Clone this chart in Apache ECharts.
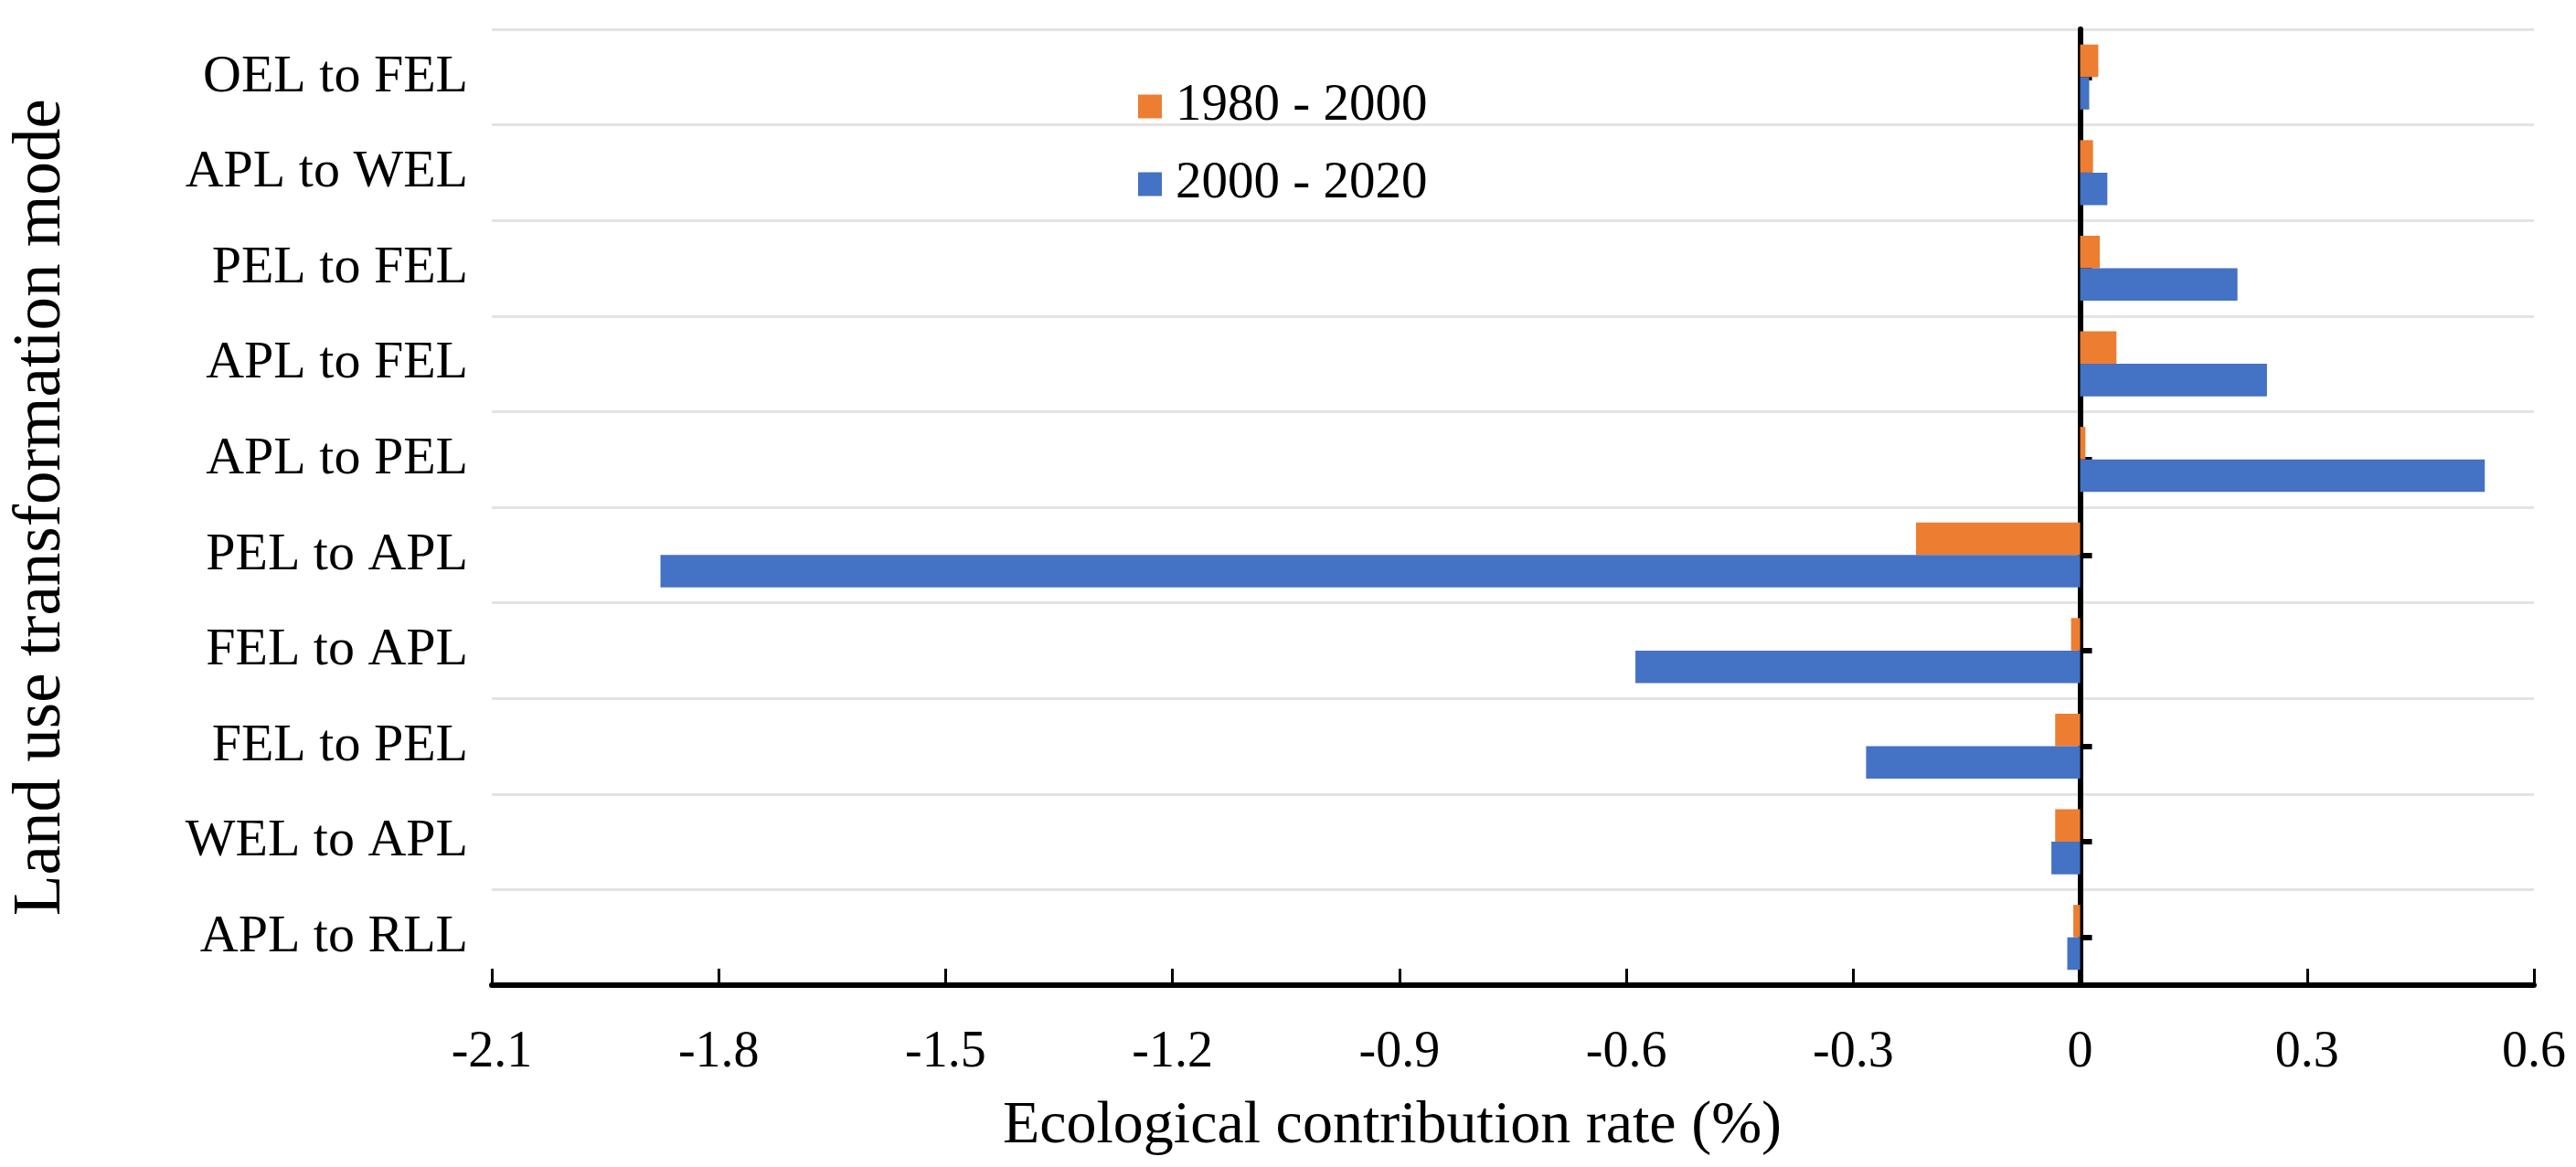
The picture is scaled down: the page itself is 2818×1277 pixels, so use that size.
<!DOCTYPE html>
<html>
<head>
<meta charset="utf-8">
<script src="https://cdn.jsdelivr.net/npm/echarts@6/dist/echarts.min.js"></script>
<style>
html,body{margin:0;padding:0;background:#fff;}
#chart{width:2818px;height:1277px;}
</style>
</head>
<body>
<div id="chart"></div>
<script>
// categories listed bottom to top
var categories = ['APL to RLL','WEL to APL','FEL to PEL','FEL to APL','PEL to APL','APL to PEL','APL to FEL','PEL to FEL','APL to WEL','OEL to FEL'];
var series1980 = [-0.009, -0.033, -0.033, -0.012, -0.217, 0.007, 0.048, 0.026, 0.017, 0.024];
var series2000 = [-0.017, -0.038, -0.283, -0.588, -1.877, 0.535, 0.247, 0.208, 0.036, 0.012];
var seriesNames = ['1980 - 2000', '2000 - 2020'];
var xTicks = {min: -2.1, max: 0.6, interval: 0.3};
var xTitle = 'Ecological contribution rate (%)';
var yTitle = 'Land use transformation mode';

var FONT = '"Liberation Serif", "Times New Roman", serif';
var chart = echarts.init(document.getElementById('chart'));
chart.setOption({
  backgroundColor: '#fff',
  animation: false,
  title: {
    text: xTitle,
    left: 1518,
    top: 1195,
    textAlign: 'center',
    textStyle: {fontFamily: FONT, fontSize: 66, fontWeight: 'normal', color: '#000'}
  },
  legend: {
    orient: 'vertical',
    left: 1240,
    top: 83,
    itemWidth: 26,
    itemHeight: 26,
    itemGap: 28,
    icon: 'rect',
    data: seriesNames,
    textStyle: {fontFamily: FONT, fontSize: 57, color: '#000', padding: [0, 0, 0, 10]}
  },
  grid: {left: 538, right: 46, top: 32, bottom: 199, containLabel: false},
  xAxis: {
    type: 'value',
    min: xTicks.min,
    max: xTicks.max,
    interval: xTicks.interval,
    axisLine: {show: true, lineStyle: {color: '#000', width: 6}},
    axisTick: {show: true, inside: true, length: 18, lineStyle: {color: '#000', width: 3}},
    splitLine: {show: false},
    axisLabel: {
      fontFamily: FONT, fontSize: 56, color: '#000', margin: 46,
      formatter: function (v) { return String(Math.round(v * 10) / 10); }
    }
  },
  yAxis: [
    {
      type: 'category',
      data: categories,
      position: 'left',
      axisLine: {show: false, onZero: false},
      axisTick: {show: false},
      splitLine: {show: true, lineStyle: {color: '#e3e3e3', width: 3}},
      axisLabel: {fontFamily: FONT, fontSize: 58, color: '#000', margin: 26},
      name: yTitle,
      nameLocation: 'middle',
      nameRotate: 90,
      nameGap: 456,
      nameTextStyle: {fontFamily: FONT, fontSize: 73, color: '#000'}
    },
    {
      type: 'category',
      data: categories,
      position: 'left',
      axisLine: {show: true, onZero: true, lineStyle: {color: '#000', width: 6}},
      axisTick: {show: true, inside: true, alignWithLabel: true, length: 13, lineStyle: {color: '#000', width: 6}},
      axisLabel: {show: false},
      splitLine: {show: false}
    }
  ],
  series: [
    {
      name: seriesNames[0],
      type: 'bar',
      yAxisIndex: 0,
      data: series1980,
      barGap: '0%',
      barCategoryGap: '32%',
      itemStyle: {color: '#ED7D31'}
    },
    {
      name: seriesNames[1],
      type: 'bar',
      yAxisIndex: 0,
      data: series2000,
      barGap: '0%',
      barCategoryGap: '32%',
      itemStyle: {color: '#4472C4'}
    }
  ]
});
</script>
</body>
</html>
